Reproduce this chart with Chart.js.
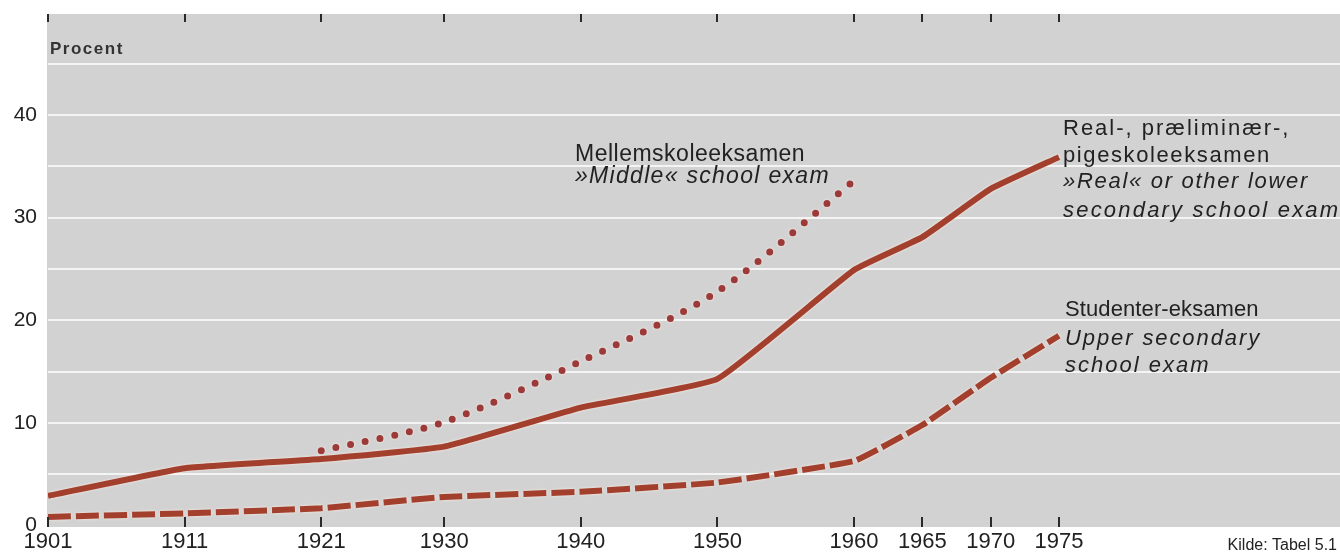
<!DOCTYPE html>
<html>
<head>
<meta charset="utf-8">
<script src="https://cdn.jsdelivr.net/npm/chart.js@4.4.0/dist/chart.umd.min.js"></script>
<style>
  html, body { margin: 0; padding: 0; background: #fff; }
  #wrap { width: 1340px; height: 552px; }
</style>
</head>
<body>
<div id="wrap"><canvas id="chart" width="1340" height="552"></canvas></div>
<script>
// Share of a cohort passing each exam, 1901-1975 (Procent)
const yearTicks = [1901, 1911, 1921, 1930, 1940, 1950, 1960, 1965, 1970, 1975];
const yTickLabels = [0, 10, 20, 30, 40];

const realYears = [1901, 1911, 1921, 1930, 1940, 1950, 1960, 1965, 1970, 1975];
const realValues = [2.9, 5.6, 6.5, 7.7, 11.5, 14.3, 24.9, 28.1, 32.8, 35.9];

const mellemYears = [1921, 1930, 1940, 1950, 1960];
const mellemValues = [7.3, 10.1, 16.0, 22.8, 33.6];

const studentYears = [1901, 1911, 1921, 1930, 1940, 1950, 1960, 1965, 1970, 1975];
const studentValues = [0.85, 1.2, 1.7, 2.8, 3.3, 4.2, 6.3, 9.8, 14.4, 18.5];

const lineColor = "#a2402d";
const darkText = "#222";
const fontFam = "'Liberation Sans', Arial, sans-serif";

function toPoints(xs, ys) {
    return xs.map((x, i) => ({ x: x, y: ys[i] }));
}

// Text next to the lines (size, letter spacing matched to the print)
const notes = [
    { x: 575, y: 161, text: "Mellemskoleeksamen", italic: false, size: 23, ls: 0.5 },
    { x: 575, y: 183, text: "»Middle« school exam", italic: true, size: 23, ls: 1.3 },
    { x: 1063, y: 135, text: "Real-, præliminær-,", italic: false, size: 22, ls: 2.0 },
    { x: 1063, y: 162, text: "pigeskoleeksamen", italic: false, size: 22, ls: 1.6 },
    { x: 1063, y: 188, text: "»Real« or other lower", italic: true, size: 22, ls: 1.7 },
    { x: 1063, y: 217, text: "secondary school exam", italic: true, size: 22, ls: 2.2 },
    { x: 1065, y: 316, text: "Studenter-eksamen", italic: false, size: 22, ls: 0.1 },
    { x: 1065, y: 345, text: "Upper secondary", italic: true, size: 22, ls: 1.9 },
    { x: 1065, y: 372, text: "school exam", italic: true, size: 22, ls: 2.0 }
];

const panelPlugin = {
    id: "panel",
    beforeDraw(chart) {
        const { ctx, chartArea } = chart;
        ctx.save();
        ctx.fillStyle = "#d2d2d2";
        ctx.fillRect(chartArea.left - 1, chartArea.top, chartArea.right - chartArea.left + 1, chartArea.bottom - chartArea.top);
        ctx.restore();
    },
    beforeDatasetsDraw(chart) {
        // light halo round the lines, like the print
        const ctx = chart.ctx;
        ctx.save();
        ctx.shadowColor = "rgba(255, 240, 232, 0.95)";
        ctx.shadowBlur = 3;
    },
    afterDatasetsDraw(chart) {
        chart.ctx.restore();
    },
    afterDraw(chart) {
        const { ctx, chartArea, scales } = chart;
        ctx.save();

        // tick marks top and bottom, inside the panel
        ctx.strokeStyle = "#2a2a2a";
        ctx.lineWidth = 2;
        yearTicks.forEach(yr => {
            const px = Math.round(scales.x.getPixelForValue(yr));
            ctx.beginPath();
            ctx.moveTo(px, chartArea.top);
            ctx.lineTo(px, chartArea.top + 8);
            ctx.moveTo(px, chartArea.bottom - 10);
            ctx.lineTo(px, chartArea.bottom);
            ctx.stroke();
        });

        // axis title
        ctx.fillStyle = "#333";
        ctx.font = "bold 17px " + fontFam;
        ctx.letterSpacing = "1.5px";
        ctx.textBaseline = "alphabetic";
        ctx.fillText("Procent", 50, 54);

        // line labels
        ctx.fillStyle = darkText;
        notes.forEach(n => {
            ctx.font = (n.italic ? "italic " : "") + n.size + "px " + fontFam;
            ctx.letterSpacing = n.ls + "px";
            ctx.fillText(n.text, n.x, n.y);
        });
        ctx.letterSpacing = "0px";

        // source
        ctx.font = "16px " + fontFam;
        ctx.textAlign = "right";
        ctx.fillText("Kilde: Tabel 5.1", 1337, 550);
        ctx.restore();
    }
};

new Chart(document.getElementById("chart"), {
    type: "line",
    data: {
        datasets: [
            {
                label: "Real-, præliminær-, pigeskoleeksamen",
                data: toPoints(realYears, realValues),
                borderColor: lineColor,
                borderWidth: 6,
                tension: 0.12,
                pointRadius: 0
            },
            {
                label: "Mellemskoleeksamen",
                data: toPoints(mellemYears, mellemValues),
                borderColor: "#9c3a3a",
                borderWidth: 7,
                borderDash: [0, 15],
                borderCapStyle: "round",
                tension: 0.3,
                pointRadius: 0
            },
            {
                label: "Studenter-eksamen",
                data: toPoints(studentYears, studentValues),
                borderColor: lineColor,
                borderWidth: 6,
                borderDash: [23, 5],
                tension: 0.1,
                pointRadius: 0
            }
        ]
    },
    options: {
        responsive: false,
        devicePixelRatio: 1,
        animation: false,
        layout: { padding: { top: 14, right: 0, left: 0, bottom: 0 } },
        plugins: {
            legend: { display: false },
            tooltip: { enabled: false }
        },
        scales: {
            x: {
                type: "linear",
                min: 1901,
                max: 1995.57,
                afterBuildTicks: (scale) => { scale.ticks = yearTicks.map(v => ({ value: v })); },
                afterFit: (scale) => {
                    scale.height = 25;
                    scale.paddingLeft = 0;
                    scale.paddingRight = 0;
                },
                grid: { display: false, drawTicks: false },
                border: { display: false },
                ticks: {
                    autoSkip: false,
                    maxRotation: 0,
                    padding: 2,
                    color: darkText,
                    font: { family: fontFam, size: 22 },
                    callback: (v) => String(v)
                }
            },
            y: {
                min: -0.13,
                max: 49.84,
                afterBuildTicks: (scale) => {
                    const t = [];
                    for (let v = 0; v <= 45; v += 5) t.push({ value: v });
                    scale.ticks = t;
                },
                afterFit: (scale) => {
                    scale.width = 48;
                    scale.paddingTop = 0;
                    scale.paddingBottom = 0;
                },
                grid: {
                    drawTicks: false,
                    lineWidth: 2,
                    color: (c) => (c.tick && c.tick.value === 0 ? "rgba(0,0,0,0)" : "#f4f4f4")
                },
                border: { display: false },
                ticks: {
                    padding: 11,
                    color: darkText,
                    font: { family: fontFam, size: 21 },
                    callback: (v) => (yTickLabels.includes(v) ? String(v) : "")
                }
            }
        }
    },
    plugins: [panelPlugin]
});
</script>
</body>
</html>
